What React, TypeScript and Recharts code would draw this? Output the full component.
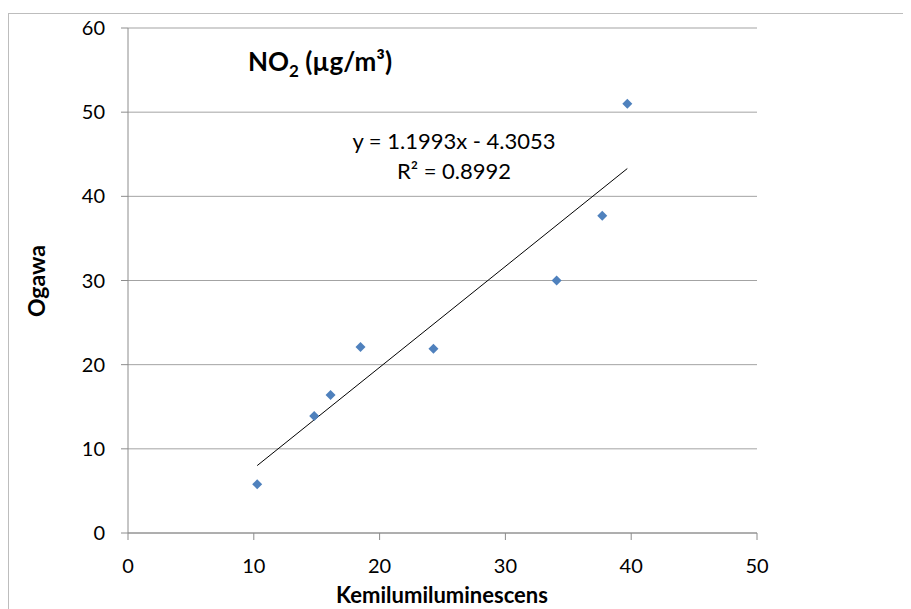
import React from 'react';
import { ScatterChart, Scatter, XAxis, YAxis, CartesianGrid, ReferenceLine } from 'recharts';

// Kemilumiluminescens (x) vs Ogawa (y), NO2 µg/m3
const kemiValues = [10.27, 14.8, 16.1, 18.48, 24.28, 34.07, 37.7, 39.69];
const ogawaValues = [5.8, 13.9, 16.4, 22.1, 21.9, 30.0, 37.7, 51.0];

// linear trendline endpoints (y = 1.1993x - 4.3053)
const trendX = [10.27, 39.69];
const trendY = [8.01, 43.3];

const xTicks = [0, 10, 20, 30, 40, 50];
const yTicks = [0, 10, 20, 30, 40, 50, 60];

const points = kemiValues.map((x, i) => ({ x, y: ogawaValues[i] }));
const trend = trendX.map((x, i) => ({ x, y: trendY[i] }));

const Diamond = (props: any) => {
  const { cx, cy } = props;
  const r = 5;
  return (
    <polygon
      points={`${cx},${cy - r} ${cx + r},${cy} ${cx},${cy + r} ${cx - r},${cy}`}
      fill="#4f81bd"
    />
  );
};

const txt: React.CSSProperties = {
  position: 'absolute',
  transform: 'translate(-50%, -50%)',
  whiteSpace: 'nowrap',
  color: '#000',
  lineHeight: 1,
};

export default function App() {
  return (
    <div style={{ position: 'relative', width: 903, height: 601, overflow: 'hidden', fontFamily: 'Lato, sans-serif', background: '#fff' }}>
      {/* outer chart frame */}
      <div style={{ position: 'absolute', left: 0, top: 5, width: 2000, height: 2000, borderTop: '1px solid #bdbdbd', borderLeft: '1px solid #bdbdbd' }} />
      <ScatterChart width={903} height={601} margin={{ top: 20, right: 154, bottom: 0, left: 0 }}>
        <CartesianGrid vertical={false} stroke="#a3a3a3" />
        <XAxis
          type="number"
          dataKey="x"
          domain={[0, 50]}
          ticks={xTicks}
          height={76}
          tickSize={7}
          tickMargin={19}
          stroke="#8c8c8c"
          tick={{ fill: '#000', fontSize: 20 }}
        />
        <YAxis
          type="number"
          dataKey="y"
          domain={[0, 60]}
          ticks={yTicks}
          width={120}
          tickSize={7}
          tickMargin={16}
          stroke="#8c8c8c"
          tick={{ fill: '#000', fontSize: 20 }}
        />
        <ReferenceLine segment={trend} stroke="#000" strokeWidth={1} ifOverflow="visible" />
        <Scatter data={points} shape={Diamond} isAnimationActive={false} />
      </ScatterChart>

      <div style={{ ...txt, left: 312, top: 53, fontSize: 26, fontWeight: 700 }}>
        NO<span style={{ fontSize: 17, position: 'relative', top: 6 }}>2</span> (µg/m³)
      </div>
      <div style={{ ...txt, left: 446, top: 133, fontSize: 22 }}>y = 1.1993x - 4.3053</div>
      <div style={{ ...txt, left: 446, top: 163, fontSize: 22 }}>R² = 0.8992</div>
      <div style={{ ...txt, left: 28, top: 273, fontSize: 23, fontWeight: 700, transform: 'translate(-50%, -50%) rotate(-90deg)' }}>Ogawa</div>
      <div style={{ ...txt, left: 434, top: 587, fontSize: 22, fontWeight: 700 }}>Kemilumiluminescens</div>
    </div>
  );
}
